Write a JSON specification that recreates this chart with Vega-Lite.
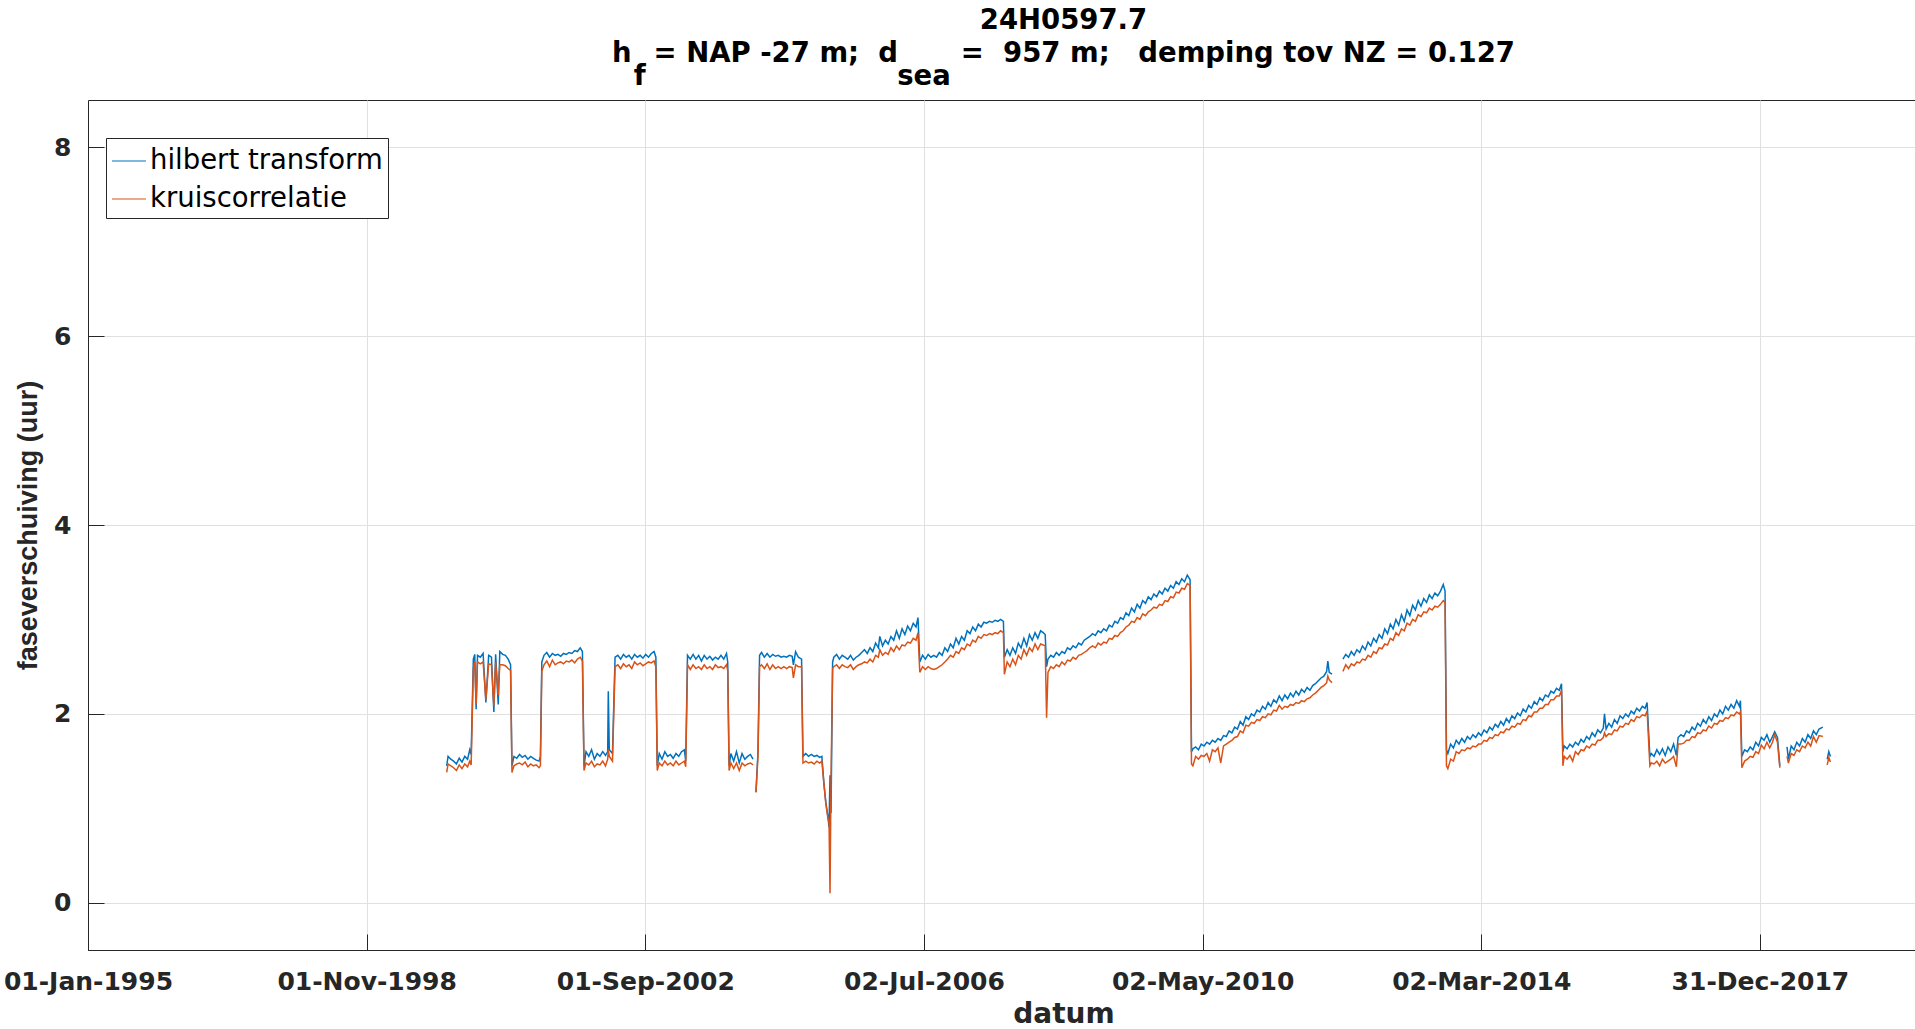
{
"$schema": "https://vega.github.io/schema/vega-lite/v6.json",
"width": 1827, "height": 850,
"autosize": {"type": "none"},
"padding": {"left": 88, "top": 100, "right": 0, "bottom": 79},
"background": "white",
"title": {
  "text": "24H0597.7",
  "subtitle": ["h\u00a0\u200a = NAP -27 m;\u00a0\u00a0d\u2007\u2007\u00a0\u2009 =\u00a0\u00a0957 m;\u00a0\u00a0\u00a0demping tov NZ = 0.127",
               "\u200b\u2007\u200af\u2007\u2007\u2007\u2007\u2007\u2007\u2007\u2007\u2007\u2007\u2007\u2007\u2007\u200asea\u2007\u2007\u2007\u2007\u2007\u2007\u2007\u2007\u2007\u2007\u2007\u2007\u2007\u2007\u2007\u2007\u2007\u2007\u2007\u2007\u2007\u2007\u2007\u2007\u2007\u2007\u2007\u2007\u2007\u00a0\u200b"],
  "anchor": "middle", "frame": "group", "dx": 62, "offset": 10,
  "font": "DejaVu Sans", "fontSize": 27.5, "fontWeight": "bold", "color": "#000000",
  "subtitleFont": "DejaVu Sans", "subtitleFontSize": 27.5, "subtitleFontWeight": "bold", "subtitleColor": "#000000",
  "subtitlePadding": 5, "subtitleLineHeight": 23
},
"data": {"values": [
{"d":"1999-12-08","h":1.45,"k":1.38},
{"d":"1999-12-15","h":1.55,"k":1.47},
{"d":"1999-12-29","h":1.52,"k":1.45},
{"d":"2000-01-12","h":1.50,"k":1.43},
{"d":"2000-01-26","h":1.47,"k":1.40},
{"d":"2000-02-09","h":1.53,"k":1.46},
{"d":"2000-02-23","h":1.49,"k":1.42},
{"d":"2000-03-08","h":1.55,"k":1.47},
{"d":"2000-03-22","h":1.52,"k":1.44},
{"d":"2000-04-02","h":1.62,"k":1.50},
{"d":"2000-04-09","h":1.57,"k":1.46},
{"d":"2000-04-20","h":2.58,"k":2.48},
{"d":"2000-04-27","h":2.63,"k":2.55},
{"d":"2000-05-04","h":2.05,"k":2.10},
{"d":"2000-05-11","h":2.62,"k":2.55},
{"d":"2000-05-25","h":2.60,"k":2.53},
{"d":"2000-06-08","h":2.64,"k":2.55},
{"d":"2000-06-22","h":2.12,"k":2.15},
{"d":"2000-07-06","h":2.62,"k":2.53},
{"d":"2000-07-20","h":2.60,"k":2.52},
{"d":"2000-08-01","h":2.02,"k":2.08},
{"d":"2000-08-10","h":2.63,"k":2.55},
{"d":"2000-08-23","h":2.10,"k":2.20},
{"d":"2000-08-31","h":2.66,"k":2.52},
{"d":"2000-09-14","h":2.63,"k":2.52},
{"d":"2000-09-28","h":2.62,"k":2.51},
{"d":"2000-10-12","h":2.58,"k":2.48},
{"d":"2000-10-24","h":2.52,"k":2.46},
{"d":"2000-10-31","h":1.45,"k":1.38},
{"d":"2000-11-10","h":1.55,"k":1.45},
{"d":"2000-11-24","h":1.53,"k":1.47},
{"d":"2000-12-08","h":1.57,"k":1.48},
{"d":"2000-12-22","h":1.54,"k":1.46},
{"d":"2001-01-05","h":1.56,"k":1.49},
{"d":"2001-01-19","h":1.52,"k":1.44},
{"d":"2001-02-02","h":1.55,"k":1.47},
{"d":"2001-02-16","h":1.53,"k":1.45},
{"d":"2001-03-02","h":1.51,"k":1.46},
{"d":"2001-03-16","h":1.50,"k":1.43},
{"d":"2001-03-23","h":1.55,"k":1.45},
{"d":"2001-03-30","h":2.55,"k":2.45},
{"d":"2001-04-10","h":2.62,"k":2.52},
{"d":"2001-04-24","h":2.65,"k":2.56},
{"d":"2001-05-08","h":2.60,"k":2.50},
{"d":"2001-05-22","h":2.64,"k":2.57},
{"d":"2001-06-05","h":2.62,"k":2.52},
{"d":"2001-06-19","h":2.63,"k":2.54},
{"d":"2001-07-03","h":2.61,"k":2.55},
{"d":"2001-07-17","h":2.64,"k":2.53},
{"d":"2001-07-31","h":2.63,"k":2.56},
{"d":"2001-08-14","h":2.65,"k":2.55},
{"d":"2001-08-28","h":2.64,"k":2.57},
{"d":"2001-09-11","h":2.67,"k":2.54},
{"d":"2001-09-25","h":2.66,"k":2.58},
{"d":"2001-10-09","h":2.70,"k":2.60},
{"d":"2001-10-20","h":2.66,"k":2.56},
{"d":"2001-10-28","h":1.45,"k":1.40},
{"d":"2001-11-07","h":1.60,"k":1.48},
{"d":"2001-11-21","h":1.55,"k":1.46},
{"d":"2001-12-05","h":1.62,"k":1.50},
{"d":"2001-12-19","h":1.52,"k":1.44},
{"d":"2002-01-02","h":1.58,"k":1.47},
{"d":"2002-01-16","h":1.55,"k":1.46},
{"d":"2002-01-30","h":1.60,"k":1.50},
{"d":"2002-02-13","h":1.56,"k":1.45},
{"d":"2002-02-24","h":1.60,"k":1.52},
{"d":"2002-02-27","h":2.24,"k":1.62},
{"d":"2002-03-04","h":1.62,"k":1.55},
{"d":"2002-03-20","h":1.58,"k":1.50},
{"d":"2002-04-02","h":2.60,"k":2.50},
{"d":"2002-04-16","h":2.62,"k":2.52},
{"d":"2002-04-30","h":2.58,"k":2.48},
{"d":"2002-05-14","h":2.63,"k":2.53},
{"d":"2002-05-28","h":2.60,"k":2.50},
{"d":"2002-06-11","h":2.62,"k":2.52},
{"d":"2002-06-25","h":2.58,"k":2.48},
{"d":"2002-07-09","h":2.63,"k":2.55},
{"d":"2002-07-23","h":2.60,"k":2.52},
{"d":"2002-08-06","h":2.62,"k":2.54},
{"d":"2002-08-20","h":2.59,"k":2.51},
{"d":"2002-09-03","h":2.63,"k":2.53},
{"d":"2002-09-17","h":2.60,"k":2.55},
{"d":"2002-10-01","h":2.64,"k":2.54},
{"d":"2002-10-15","h":2.66,"k":2.56},
{"d":"2002-10-24","h":2.60,"k":2.50},
{"d":"2002-10-31","h":1.45,"k":1.40},
{"d":"2002-11-10","h":1.58,"k":1.48},
{"d":"2002-11-24","h":1.52,"k":1.45},
{"d":"2002-12-08","h":1.60,"k":1.50},
{"d":"2002-12-22","h":1.55,"k":1.46},
{"d":"2003-01-05","h":1.57,"k":1.48},
{"d":"2003-01-19","h":1.53,"k":1.45},
{"d":"2003-02-02","h":1.58,"k":1.50},
{"d":"2003-02-16","h":1.55,"k":1.46},
{"d":"2003-03-02","h":1.60,"k":1.48},
{"d":"2003-03-16","h":1.62,"k":1.50},
{"d":"2003-03-23","h":1.50,"k":1.44},
{"d":"2003-04-01","h":2.62,"k":2.52},
{"d":"2003-04-15","h":2.58,"k":2.47},
{"d":"2003-04-29","h":2.63,"k":2.52},
{"d":"2003-05-13","h":2.58,"k":2.48},
{"d":"2003-05-27","h":2.62,"k":2.50},
{"d":"2003-06-10","h":2.56,"k":2.47},
{"d":"2003-06-24","h":2.62,"k":2.52},
{"d":"2003-07-08","h":2.58,"k":2.48},
{"d":"2003-07-22","h":2.61,"k":2.50},
{"d":"2003-08-05","h":2.57,"k":2.47},
{"d":"2003-08-19","h":2.60,"k":2.52},
{"d":"2003-09-02","h":2.58,"k":2.49},
{"d":"2003-09-16","h":2.62,"k":2.50},
{"d":"2003-09-30","h":2.58,"k":2.48},
{"d":"2003-10-14","h":2.64,"k":2.52},
{"d":"2003-10-20","h":2.55,"k":2.46},
{"d":"2003-10-27","h":1.45,"k":1.40},
{"d":"2003-11-05","h":1.58,"k":1.48},
{"d":"2003-11-19","h":1.50,"k":1.42},
{"d":"2003-12-03","h":1.60,"k":1.48},
{"d":"2003-12-17","h":1.48,"k":1.40},
{"d":"2003-12-31","h":1.58,"k":1.48},
{"d":"2004-01-14","h":1.52,"k":1.45},
{"d":"2004-01-28","h":1.55,"k":1.47},
{"d":"2004-02-11","h":1.57,"k":1.48},
{"d":"2004-02-24","h":1.52,"k":1.46},
{"d":"2004-03-02","h":null,"k":null},
{"d":"2004-03-10","h":1.17,"k":1.17},
{"d":"2004-03-20","h":1.60,"k":1.55},
{"d":"2004-03-28","h":2.62,"k":2.50},
{"d":"2004-04-07","h":2.65,"k":2.52},
{"d":"2004-04-21","h":2.60,"k":2.48},
{"d":"2004-05-05","h":2.64,"k":2.53},
{"d":"2004-05-19","h":2.60,"k":2.47},
{"d":"2004-06-02","h":2.63,"k":2.52},
{"d":"2004-06-16","h":2.61,"k":2.48},
{"d":"2004-06-30","h":2.62,"k":2.50},
{"d":"2004-07-14","h":2.60,"k":2.48},
{"d":"2004-07-28","h":2.61,"k":2.50},
{"d":"2004-08-11","h":2.60,"k":2.48},
{"d":"2004-08-25","h":2.62,"k":2.50},
{"d":"2004-09-08","h":2.61,"k":2.49},
{"d":"2004-09-14","h":2.52,"k":2.38},
{"d":"2004-09-25","h":2.66,"k":2.52},
{"d":"2004-10-09","h":2.60,"k":2.50},
{"d":"2004-10-25","h":2.58,"k":2.50},
{"d":"2004-11-01","h":1.55,"k":1.48},
{"d":"2004-11-15","h":1.58,"k":1.50},
{"d":"2004-11-29","h":1.55,"k":1.48},
{"d":"2004-12-13","h":1.57,"k":1.49},
{"d":"2004-12-27","h":1.55,"k":1.47},
{"d":"2005-01-10","h":1.56,"k":1.50},
{"d":"2005-01-24","h":1.54,"k":1.48},
{"d":"2005-02-04","h":1.55,"k":1.50},
{"d":"2005-02-14","h":1.27,"k":1.27},
{"d":"2005-02-24","h":1.06,"k":1.05},
{"d":"2005-03-06","h":0.92,"k":0.90},
{"d":"2005-03-12","h":0.80,"k":0.85},
{"d":"2005-03-17","h":1.35,"k":0.10},
{"d":"2005-03-22","h":0.95,"k":1.30},
{"d":"2005-03-30","h":2.55,"k":2.48},
{"d":"2005-04-05","h":2.60,"k":2.50},
{"d":"2005-04-19","h":2.63,"k":2.52},
{"d":"2005-05-03","h":2.58,"k":2.48},
{"d":"2005-05-17","h":2.62,"k":2.52},
{"d":"2005-05-31","h":2.60,"k":2.50},
{"d":"2005-06-14","h":2.58,"k":2.49},
{"d":"2005-06-28","h":2.62,"k":2.52},
{"d":"2005-07-12","h":2.57,"k":2.47},
{"d":"2005-07-26","h":2.60,"k":2.50},
{"d":"2005-08-09","h":2.62,"k":2.52},
{"d":"2005-08-23","h":2.65,"k":2.53},
{"d":"2005-09-06","h":2.68,"k":2.55},
{"d":"2005-09-20","h":2.64,"k":2.54},
{"d":"2005-10-04","h":2.70,"k":2.58},
{"d":"2005-10-18","h":2.66,"k":2.55},
{"d":"2005-11-01","h":2.75,"k":2.62},
{"d":"2005-11-15","h":2.70,"k":2.60},
{"d":"2005-11-22","h":2.82,"k":2.68},
{"d":"2005-12-06","h":2.72,"k":2.62},
{"d":"2005-12-20","h":2.78,"k":2.65},
{"d":"2006-01-03","h":2.74,"k":2.63},
{"d":"2006-01-17","h":2.82,"k":2.70},
{"d":"2006-01-31","h":2.78,"k":2.66},
{"d":"2006-02-14","h":2.88,"k":2.72},
{"d":"2006-02-28","h":2.80,"k":2.68},
{"d":"2006-03-14","h":2.90,"k":2.73},
{"d":"2006-03-28","h":2.84,"k":2.72},
{"d":"2006-04-11","h":2.93,"k":2.76},
{"d":"2006-04-25","h":2.88,"k":2.75},
{"d":"2006-05-09","h":2.96,"k":2.80},
{"d":"2006-05-23","h":2.92,"k":2.78},
{"d":"2006-06-02","h":3.02,"k":2.86},
{"d":"2006-06-11","h":2.55,"k":2.44},
{"d":"2006-06-25","h":2.62,"k":2.50},
{"d":"2006-07-09","h":2.58,"k":2.47},
{"d":"2006-07-23","h":2.63,"k":2.50},
{"d":"2006-08-06","h":2.60,"k":2.48},
{"d":"2006-08-20","h":2.62,"k":2.47},
{"d":"2006-09-03","h":2.60,"k":2.48},
{"d":"2006-09-17","h":2.65,"k":2.50},
{"d":"2006-10-01","h":2.62,"k":2.52},
{"d":"2006-10-15","h":2.70,"k":2.55},
{"d":"2006-10-29","h":2.66,"k":2.58},
{"d":"2006-11-12","h":2.74,"k":2.62},
{"d":"2006-11-26","h":2.70,"k":2.60},
{"d":"2006-12-10","h":2.80,"k":2.66},
{"d":"2006-12-24","h":2.74,"k":2.64},
{"d":"2007-01-07","h":2.82,"k":2.70},
{"d":"2007-01-21","h":2.78,"k":2.68},
{"d":"2007-02-04","h":2.88,"k":2.74},
{"d":"2007-02-18","h":2.85,"k":2.72},
{"d":"2007-03-04","h":2.92,"k":2.78},
{"d":"2007-03-18","h":2.88,"k":2.76},
{"d":"2007-04-01","h":2.95,"k":2.82},
{"d":"2007-04-15","h":2.92,"k":2.80},
{"d":"2007-04-29","h":2.97,"k":2.84},
{"d":"2007-05-13","h":2.96,"k":2.83},
{"d":"2007-05-27","h":2.98,"k":2.85},
{"d":"2007-06-10","h":2.97,"k":2.84},
{"d":"2007-06-24","h":2.99,"k":2.86},
{"d":"2007-07-08","h":2.98,"k":2.85},
{"d":"2007-07-22","h":3.00,"k":2.88},
{"d":"2007-08-05","h":2.98,"k":2.86},
{"d":"2007-08-10","h":2.60,"k":2.42},
{"d":"2007-08-24","h":2.68,"k":2.55},
{"d":"2007-09-07","h":2.62,"k":2.50},
{"d":"2007-09-21","h":2.70,"k":2.58},
{"d":"2007-10-05","h":2.64,"k":2.52},
{"d":"2007-10-19","h":2.75,"k":2.62},
{"d":"2007-11-02","h":2.70,"k":2.58},
{"d":"2007-11-16","h":2.80,"k":2.68},
{"d":"2007-11-30","h":2.72,"k":2.62},
{"d":"2007-12-14","h":2.84,"k":2.70},
{"d":"2007-12-28","h":2.78,"k":2.66},
{"d":"2008-01-11","h":2.86,"k":2.74},
{"d":"2008-01-25","h":2.80,"k":2.68},
{"d":"2008-02-08","h":2.88,"k":2.74},
{"d":"2008-02-21","h":2.86,"k":2.73},
{"d":"2008-03-02","h":2.84,"k":2.72},
{"d":"2008-03-09","h":2.50,"k":1.96},
{"d":"2008-03-16","h":2.58,"k":2.44},
{"d":"2008-03-30","h":2.62,"k":2.50},
{"d":"2008-04-13","h":2.60,"k":2.48},
{"d":"2008-04-27","h":2.65,"k":2.52},
{"d":"2008-05-11","h":2.62,"k":2.50},
{"d":"2008-05-25","h":2.66,"k":2.55},
{"d":"2008-06-08","h":2.64,"k":2.52},
{"d":"2008-06-22","h":2.70,"k":2.57},
{"d":"2008-07-06","h":2.68,"k":2.56},
{"d":"2008-07-20","h":2.72,"k":2.60},
{"d":"2008-08-03","h":2.70,"k":2.58},
{"d":"2008-08-17","h":2.75,"k":2.62},
{"d":"2008-08-31","h":2.73,"k":2.63},
{"d":"2008-09-14","h":2.78,"k":2.65},
{"d":"2008-09-28","h":2.80,"k":2.67},
{"d":"2008-10-12","h":2.82,"k":2.70},
{"d":"2008-10-26","h":2.85,"k":2.72},
{"d":"2008-11-09","h":2.83,"k":2.70},
{"d":"2008-11-23","h":2.88,"k":2.75},
{"d":"2008-12-07","h":2.86,"k":2.73},
{"d":"2008-12-21","h":2.90,"k":2.76},
{"d":"2009-01-04","h":2.88,"k":2.75},
{"d":"2009-01-18","h":2.94,"k":2.80},
{"d":"2009-02-01","h":2.92,"k":2.79},
{"d":"2009-02-15","h":2.98,"k":2.83},
{"d":"2009-03-01","h":2.96,"k":2.82},
{"d":"2009-03-15","h":3.02,"k":2.86},
{"d":"2009-03-29","h":3.00,"k":2.88},
{"d":"2009-04-12","h":3.07,"k":2.92},
{"d":"2009-04-26","h":3.04,"k":2.94},
{"d":"2009-05-10","h":3.12,"k":2.98},
{"d":"2009-05-24","h":3.08,"k":2.97},
{"d":"2009-06-07","h":3.16,"k":3.02},
{"d":"2009-06-21","h":3.12,"k":3.00},
{"d":"2009-07-05","h":3.20,"k":3.06},
{"d":"2009-07-19","h":3.17,"k":3.04},
{"d":"2009-08-02","h":3.24,"k":3.08},
{"d":"2009-08-16","h":3.21,"k":3.10},
{"d":"2009-08-30","h":3.27,"k":3.13},
{"d":"2009-09-13","h":3.24,"k":3.12},
{"d":"2009-09-27","h":3.30,"k":3.16},
{"d":"2009-10-11","h":3.27,"k":3.15},
{"d":"2009-10-25","h":3.33,"k":3.20},
{"d":"2009-11-08","h":3.30,"k":3.19},
{"d":"2009-11-22","h":3.36,"k":3.24},
{"d":"2009-12-06","h":3.33,"k":3.23},
{"d":"2009-12-20","h":3.40,"k":3.29},
{"d":"2010-01-03","h":3.37,"k":3.28},
{"d":"2010-01-17","h":3.43,"k":3.33},
{"d":"2010-01-31","h":3.40,"k":3.32},
{"d":"2010-02-14","h":3.47,"k":3.38},
{"d":"2010-02-28","h":3.42,"k":3.36},
{"d":"2010-03-07","h":1.60,"k":1.47},
{"d":"2010-03-14","h":1.63,"k":1.45},
{"d":"2010-03-28","h":1.65,"k":1.55},
{"d":"2010-04-11","h":1.62,"k":1.52},
{"d":"2010-04-25","h":1.68,"k":1.56},
{"d":"2010-05-09","h":1.66,"k":1.55},
{"d":"2010-05-23","h":1.70,"k":1.58},
{"d":"2010-06-06","h":1.68,"k":1.50},
{"d":"2010-06-20","h":1.72,"k":1.62},
{"d":"2010-07-04","h":1.70,"k":1.60},
{"d":"2010-07-18","h":1.74,"k":1.64},
{"d":"2010-08-01","h":1.72,"k":1.48},
{"d":"2010-08-15","h":1.77,"k":1.66},
{"d":"2010-08-29","h":1.76,"k":1.68},
{"d":"2010-09-12","h":1.82,"k":1.70},
{"d":"2010-09-26","h":1.80,"k":1.72},
{"d":"2010-10-10","h":1.86,"k":1.75},
{"d":"2010-10-24","h":1.84,"k":1.76},
{"d":"2010-11-07","h":1.92,"k":1.82},
{"d":"2010-11-21","h":1.88,"k":1.80},
{"d":"2010-12-05","h":1.97,"k":1.88},
{"d":"2010-12-19","h":1.94,"k":1.87},
{"d":"2011-01-02","h":2.00,"k":1.91},
{"d":"2011-01-16","h":1.98,"k":1.90},
{"d":"2011-01-30","h":2.04,"k":1.94},
{"d":"2011-02-13","h":2.02,"k":1.93},
{"d":"2011-02-27","h":2.08,"k":1.97},
{"d":"2011-03-13","h":2.05,"k":1.96},
{"d":"2011-03-27","h":2.12,"k":2.00},
{"d":"2011-04-10","h":2.08,"k":1.99},
{"d":"2011-04-24","h":2.15,"k":2.04},
{"d":"2011-05-08","h":2.12,"k":2.03},
{"d":"2011-05-22","h":2.19,"k":2.09},
{"d":"2011-06-05","h":2.14,"k":2.05},
{"d":"2011-06-19","h":2.20,"k":2.08},
{"d":"2011-07-03","h":2.16,"k":2.07},
{"d":"2011-07-17","h":2.22,"k":2.10},
{"d":"2011-07-31","h":2.18,"k":2.09},
{"d":"2011-08-14","h":2.24,"k":2.12},
{"d":"2011-08-28","h":2.20,"k":2.11},
{"d":"2011-09-11","h":2.26,"k":2.14},
{"d":"2011-09-25","h":2.23,"k":2.13},
{"d":"2011-10-09","h":2.28,"k":2.16},
{"d":"2011-10-23","h":2.25,"k":2.17},
{"d":"2011-11-06","h":2.30,"k":2.20},
{"d":"2011-11-20","h":2.32,"k":2.22},
{"d":"2011-12-04","h":2.35,"k":2.25},
{"d":"2011-12-18","h":2.38,"k":2.28},
{"d":"2012-01-01","h":2.40,"k":2.30},
{"d":"2012-01-15","h":2.45,"k":2.33},
{"d":"2012-01-21","h":2.56,"k":2.40},
{"d":"2012-01-28","h":2.44,"k":2.36},
{"d":"2012-02-11","h":2.42,"k":2.33},
{"d":"2012-03-01","h":null,"k":null},
{"d":"2012-04-06","h":2.58,"k":2.45},
{"d":"2012-04-20","h":2.63,"k":2.52},
{"d":"2012-05-04","h":2.60,"k":2.48},
{"d":"2012-05-18","h":2.66,"k":2.53},
{"d":"2012-06-01","h":2.62,"k":2.51},
{"d":"2012-06-15","h":2.68,"k":2.55},
{"d":"2012-06-29","h":2.65,"k":2.54},
{"d":"2012-07-13","h":2.72,"k":2.58},
{"d":"2012-07-27","h":2.68,"k":2.57},
{"d":"2012-08-10","h":2.76,"k":2.62},
{"d":"2012-08-24","h":2.72,"k":2.60},
{"d":"2012-09-07","h":2.80,"k":2.66},
{"d":"2012-09-21","h":2.76,"k":2.64},
{"d":"2012-10-05","h":2.84,"k":2.70},
{"d":"2012-10-19","h":2.80,"k":2.69},
{"d":"2012-11-02","h":2.90,"k":2.74},
{"d":"2012-11-16","h":2.85,"k":2.73},
{"d":"2012-11-30","h":2.95,"k":2.80},
{"d":"2012-12-14","h":2.90,"k":2.78},
{"d":"2012-12-28","h":3.00,"k":2.86},
{"d":"2013-01-11","h":2.94,"k":2.83},
{"d":"2013-01-25","h":3.05,"k":2.90},
{"d":"2013-02-08","h":2.98,"k":2.88},
{"d":"2013-02-22","h":3.10,"k":2.96},
{"d":"2013-03-08","h":3.04,"k":2.94},
{"d":"2013-03-22","h":3.15,"k":3.00},
{"d":"2013-04-05","h":3.10,"k":2.98},
{"d":"2013-04-19","h":3.20,"k":3.05},
{"d":"2013-05-03","h":3.14,"k":3.03},
{"d":"2013-05-17","h":3.22,"k":3.08},
{"d":"2013-05-31","h":3.18,"k":3.07},
{"d":"2013-06-14","h":3.26,"k":3.12},
{"d":"2013-06-28","h":3.22,"k":3.10},
{"d":"2013-07-12","h":3.28,"k":3.14},
{"d":"2013-07-26","h":3.25,"k":3.13},
{"d":"2013-08-09","h":3.30,"k":3.16},
{"d":"2013-08-23","h":3.37,"k":3.20},
{"d":"2013-09-01","h":3.30,"k":3.18},
{"d":"2013-09-08","h":1.62,"k":1.45},
{"d":"2013-09-15","h":1.58,"k":1.42},
{"d":"2013-09-29","h":1.68,"k":1.52},
{"d":"2013-10-13","h":1.64,"k":1.50},
{"d":"2013-10-27","h":1.72,"k":1.60},
{"d":"2013-11-10","h":1.68,"k":1.58},
{"d":"2013-11-24","h":1.74,"k":1.62},
{"d":"2013-12-08","h":1.70,"k":1.61},
{"d":"2013-12-22","h":1.76,"k":1.64},
{"d":"2014-01-05","h":1.73,"k":1.63},
{"d":"2014-01-19","h":1.78,"k":1.66},
{"d":"2014-02-02","h":1.75,"k":1.65},
{"d":"2014-02-16","h":1.80,"k":1.68},
{"d":"2014-03-02","h":1.77,"k":1.68},
{"d":"2014-03-16","h":1.83,"k":1.72},
{"d":"2014-03-30","h":1.80,"k":1.71},
{"d":"2014-04-13","h":1.86,"k":1.75},
{"d":"2014-04-27","h":1.83,"k":1.74},
{"d":"2014-05-11","h":1.89,"k":1.78},
{"d":"2014-05-25","h":1.86,"k":1.77},
{"d":"2014-06-08","h":1.92,"k":1.81},
{"d":"2014-06-22","h":1.88,"k":1.80},
{"d":"2014-07-06","h":1.95,"k":1.84},
{"d":"2014-07-20","h":1.91,"k":1.83},
{"d":"2014-08-03","h":1.98,"k":1.87},
{"d":"2014-08-17","h":1.95,"k":1.86},
{"d":"2014-08-31","h":2.01,"k":1.90},
{"d":"2014-09-14","h":1.98,"k":1.89},
{"d":"2014-09-28","h":2.05,"k":1.94},
{"d":"2014-10-12","h":2.02,"k":1.93},
{"d":"2014-10-26","h":2.09,"k":1.98},
{"d":"2014-11-09","h":2.06,"k":1.97},
{"d":"2014-11-23","h":2.13,"k":2.02},
{"d":"2014-12-07","h":2.10,"k":2.02},
{"d":"2014-12-21","h":2.17,"k":2.06},
{"d":"2015-01-04","h":2.14,"k":2.06},
{"d":"2015-01-18","h":2.20,"k":2.10},
{"d":"2015-02-01","h":2.18,"k":2.10},
{"d":"2015-02-15","h":2.24,"k":2.15},
{"d":"2015-03-01","h":2.22,"k":2.15},
{"d":"2015-03-15","h":2.27,"k":2.19},
{"d":"2015-03-29","h":2.25,"k":2.19},
{"d":"2015-04-09","h":2.32,"k":2.25},
{"d":"2015-04-16","h":1.60,"k":1.45},
{"d":"2015-04-23","h":1.66,"k":1.55},
{"d":"2015-05-07","h":1.63,"k":1.52},
{"d":"2015-05-21","h":1.68,"k":1.56},
{"d":"2015-06-04","h":1.65,"k":1.50},
{"d":"2015-06-18","h":1.70,"k":1.60},
{"d":"2015-07-02","h":1.67,"k":1.57},
{"d":"2015-07-16","h":1.73,"k":1.62},
{"d":"2015-07-30","h":1.70,"k":1.61},
{"d":"2015-08-13","h":1.76,"k":1.66},
{"d":"2015-08-27","h":1.73,"k":1.64},
{"d":"2015-09-10","h":1.80,"k":1.68},
{"d":"2015-09-24","h":1.76,"k":1.67},
{"d":"2015-10-08","h":1.83,"k":1.72},
{"d":"2015-10-22","h":1.80,"k":1.72},
{"d":"2015-11-05","h":1.85,"k":1.75},
{"d":"2015-11-11","h":2.00,"k":1.80},
{"d":"2015-11-19","h":1.84,"k":1.76},
{"d":"2015-12-03","h":1.90,"k":1.79},
{"d":"2015-12-17","h":1.86,"k":1.78},
{"d":"2015-12-31","h":1.94,"k":1.83},
{"d":"2016-01-14","h":1.90,"k":1.82},
{"d":"2016-01-28","h":1.98,"k":1.87},
{"d":"2016-02-11","h":1.95,"k":1.86},
{"d":"2016-02-25","h":2.00,"k":1.90},
{"d":"2016-03-10","h":1.97,"k":1.89},
{"d":"2016-03-24","h":2.03,"k":1.94},
{"d":"2016-04-07","h":2.00,"k":1.92},
{"d":"2016-04-21","h":2.06,"k":1.97},
{"d":"2016-05-05","h":2.03,"k":1.96},
{"d":"2016-05-19","h":2.08,"k":1.99},
{"d":"2016-06-02","h":2.06,"k":1.98},
{"d":"2016-06-12","h":2.12,"k":2.03},
{"d":"2016-06-26","h":1.55,"k":1.45},
{"d":"2016-07-03","h":1.58,"k":1.48},
{"d":"2016-07-17","h":1.55,"k":1.47},
{"d":"2016-07-31","h":1.62,"k":1.50},
{"d":"2016-08-14","h":1.57,"k":1.45},
{"d":"2016-08-28","h":1.63,"k":1.52},
{"d":"2016-09-11","h":1.56,"k":1.48},
{"d":"2016-09-25","h":1.65,"k":1.50},
{"d":"2016-10-09","h":1.60,"k":1.52},
{"d":"2016-10-23","h":1.68,"k":1.55},
{"d":"2016-11-06","h":1.56,"k":1.44},
{"d":"2016-11-15","h":1.75,"k":1.68},
{"d":"2016-11-29","h":1.78,"k":1.68},
{"d":"2016-12-13","h":1.76,"k":1.69},
{"d":"2016-12-27","h":1.82,"k":1.72},
{"d":"2017-01-10","h":1.80,"k":1.72},
{"d":"2017-01-24","h":1.86,"k":1.76},
{"d":"2017-02-07","h":1.83,"k":1.75},
{"d":"2017-02-21","h":1.90,"k":1.80},
{"d":"2017-03-07","h":1.87,"k":1.79},
{"d":"2017-03-21","h":1.94,"k":1.83},
{"d":"2017-04-04","h":1.90,"k":1.82},
{"d":"2017-04-18","h":1.97,"k":1.87},
{"d":"2017-05-02","h":1.93,"k":1.85},
{"d":"2017-05-16","h":2.00,"k":1.90},
{"d":"2017-05-30","h":1.97,"k":1.89},
{"d":"2017-06-13","h":2.04,"k":1.93},
{"d":"2017-06-27","h":2.00,"k":1.92},
{"d":"2017-07-11","h":2.08,"k":1.96},
{"d":"2017-07-25","h":2.04,"k":1.95},
{"d":"2017-08-08","h":2.10,"k":1.99},
{"d":"2017-08-22","h":2.06,"k":1.98},
{"d":"2017-09-05","h":2.14,"k":2.02},
{"d":"2017-09-19","h":2.08,"k":2.00},
{"d":"2017-09-24","h":2.14,"k":2.02},
{"d":"2017-10-01","h":1.55,"k":1.43},
{"d":"2017-10-15","h":1.62,"k":1.50},
{"d":"2017-10-29","h":1.60,"k":1.52},
{"d":"2017-11-12","h":1.65,"k":1.55},
{"d":"2017-11-26","h":1.62,"k":1.54},
{"d":"2017-12-10","h":1.70,"k":1.60},
{"d":"2017-12-24","h":1.66,"k":1.58},
{"d":"2018-01-07","h":1.75,"k":1.67},
{"d":"2018-01-21","h":1.72,"k":1.63},
{"d":"2018-02-04","h":1.78,"k":1.70},
{"d":"2018-02-18","h":1.70,"k":1.64},
{"d":"2018-03-04","h":1.76,"k":1.70},
{"d":"2018-03-15","h":1.81,"k":1.78},
{"d":"2018-03-29","h":1.75,"k":1.70},
{"d":"2018-04-10","h":1.45,"k":1.43},
{"d":"2018-04-25","h":null,"k":null},
{"d":"2018-05-16","h":1.65,"k":1.55},
{"d":"2018-05-23","h":1.52,"k":1.48},
{"d":"2018-06-06","h":1.66,"k":1.58},
{"d":"2018-06-20","h":1.62,"k":1.56},
{"d":"2018-07-04","h":1.70,"k":1.62},
{"d":"2018-07-18","h":1.66,"k":1.60},
{"d":"2018-08-01","h":1.74,"k":1.66},
{"d":"2018-08-15","h":1.70,"k":1.64},
{"d":"2018-08-29","h":1.78,"k":1.70},
{"d":"2018-09-12","h":1.74,"k":1.66},
{"d":"2018-09-26","h":1.82,"k":1.76},
{"d":"2018-10-10","h":1.78,"k":1.70},
{"d":"2018-10-24","h":1.84,"k":1.77},
{"d":"2018-11-12","h":1.86,"k":1.76},
{"d":"2018-11-25","h":null,"k":null},
{"d":"2018-12-04","h":1.52,"k":1.46},
{"d":"2018-12-12","h":1.60,"k":1.54},
{"d":"2018-12-20","h":1.55,"k":1.49}
]},
"transform": [{"fold": ["h", "k"], "as": ["s", "v"]}],
"mark": {"type": "line", "strokeWidth": 1.5, "invalid": "break-paths-show-domains", "clip": true},
"encoding": {
  "x": {"field": "d", "type": "temporal",
        "scale": {"type": "utc", "domain": [{"year": 1995, "month": 1, "date": 1, "utc": true}, {"year": 2020, "month": 2, "date": 18, "utc": true}]},
        "axis": {"values": [
            {"year": 1995, "month": 1, "date": 1, "utc": true},
            {"year": 1998, "month": 11, "date": 1, "utc": true},
            {"year": 2002, "month": 9, "date": 1, "utc": true},
            {"year": 2006, "month": 7, "date": 2, "utc": true},
            {"year": 2010, "month": 5, "date": 2, "utc": true},
            {"year": 2014, "month": 3, "date": 2, "utc": true},
            {"year": 2017, "month": 12, "date": 31, "utc": true}],
          "labelExpr": "utcFormat(datum.value, '%d-%b-%Y')",
          "title": "datum", "titleX": 975.5, "titleY": 72, "titleBaseline": "alphabetic", "titleAlign": "center",
          "titleFont": "DejaVu Sans", "titleFontSize": 28, "titleFontWeight": "bold",
          "labelBaseline": "alphabetic", "labelPadding": 55, "labelFlush": false, "labelOverlap": false}},
  "y": {"field": "v", "type": "quantitative",
        "scale": {"domain": [-0.5, 8.5], "nice": false, "zero": false},
        "axis": {"values": [0, 2, 4, 6, 8], "title": "faseverschuiving (uur)",
          "titleFont": "Liberation Sans", "titleFontSize": 27, "titleFontWeight": "bold",
          "titleX": -60, "titleY": 425, "titleAngle": -90, "titleBaseline": "middle", "titleAlign": "center",
          "labelPadding": 33, "labelBaseline": "middle"}},
  "color": {"field": "s", "type": "nominal",
        "scale": {"domain": ["h", "k"], "range": ["#0072BD", "#D95319"]},
        "legend": {"orient": "none", "legendX": 18, "legendY": 38, "title": null,
          "labelExpr": "datum.label == 'h' ? 'hilbert transform' : 'kruiscorrelatie'",
          "labelFont": "DejaVu Sans", "labelFontSize": 27.5, "labelColor": "#000000", "labelLimit": 400, "labelOffset": 3,
          "symbolType": "stroke", "symbolSize": 1156, "symbolStrokeWidth": 1.2,
          "strokeColor": "#262626", "fillColor": "#ffffff", "padding": 5, "rowPadding": 6}}
},
"config": {
  "view": {"stroke": "#262626", "strokeWidth": 1},
  "axis": {"labelFont": "DejaVu Sans", "labelFontWeight": "bold", "labelFontSize": 25, "labelColor": "#262626",
           "titleColor": "#262626", "tickSize": -16, "tickColor": "#262626", "domainColor": "#262626",
           "grid": true, "gridColor": "#e0e0e0", "labelLimit": 400}
}
}
